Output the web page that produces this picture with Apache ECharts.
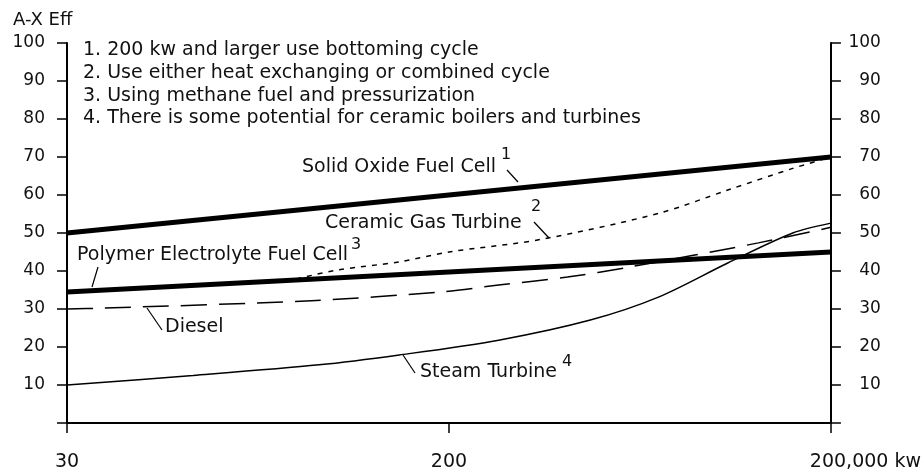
<!DOCTYPE html>
<html>
<head>
<meta charset="utf-8">
<script src="https://cdn.jsdelivr.net/npm/echarts@6/dist/echarts.min.js"></script>
<style>
  html, body { margin: 0; padding: 0; background: #fff; }
  #chart { width: 924px; height: 476px; }
</style>
</head>
<body>
<div id="chart"></div>
<script>
// x positions are in axis steps: 0 = 30 kw, 1 = 200 kw, 2 = 200,000 kw
const xTickLabels = ['30', '200', '200,000 kw'];

const solidOxideX = [0, 2];
const solidOxideY = [50, 70];

const polymerX = [0, 2];
const polymerY = [34.5, 45];

const ceramicX = [0.6, 0.71, 0.87, 1.0, 1.24, 1.55, 1.73, 1.9, 2];
const ceramicY = [37.9, 40.3, 42.4, 45, 48.3, 55.2, 61.3, 67, 70];

const dieselX = [0, 0.09, 0.64, 0.98, 1.13, 1.31, 1.47, 1.81, 2];
const dieselY = [30, 30.2, 32.2, 34.5, 36.3, 38.4, 41, 47.4, 51.5];

const steamX = [0, 0.33, 0.66, 0.87, 1.13, 1.37, 1.55, 1.73, 1.9, 2];
const steamY = [10, 12.5, 15.3, 17.9, 21.8, 27.1, 33.2, 42.1, 50, 52.6];

const notes = [
  '1. 200 kw and larger use bottoming cycle',
  '2. Use either heat exchanging or combined cycle',
  '3. Using methane fuel and pressurization',
  '4. There is some potential for ceramic boilers and turbines'
];

const FONT = '"DejaVu Sans", sans-serif';
const zip = (xs, ys) => xs.map((x, i) => [x, ys[i]]);

const chart = echarts.init(document.getElementById('chart'));

function label(text, x, y, size) {
  return {
    type: 'text', x: x, y: y,
    style: { text: text, font: (size || 19) + 'px ' + FONT, fill: '#111', align: 'left', verticalAlign: 'middle' }
  };
}
function leader(x1, y1, x2, y2) {
  return {
    type: 'line',
    shape: { x1: x1, y1: y1, x2: x2, y2: y2 },
    style: { stroke: '#000', lineWidth: 1.2 }
  };
}

const yAxisBase = {
  type: 'value',
  min: 0,
  max: 100,
  interval: 10,
  splitLine: { show: false },
  axisLine: { show: true, lineStyle: { color: '#000', width: 2 } },
  axisTick: { show: true, length: 10, lineStyle: { color: '#000', width: 1.5 } }
};

const option = {
  animation: false,
  backgroundColor: '#fff',
  grid: { left: 67, right: 92, top: 43, bottom: 53 },
  xAxis: {
    type: 'value',
    min: 0,
    max: 2,
    interval: 1,
    splitLine: { show: false },
    axisLine: { lineStyle: { color: '#000', width: 2 } },
    axisTick: { length: 10, lineStyle: { color: '#000', width: 1.5 } },
    axisLabel: {
      margin: 30,
      color: '#111',
      fontFamily: FONT,
      fontSize: 19,
      formatter: (v) => (v === 2 ? '{last|' + xTickLabels[v] + '}' : xTickLabels[v]),
      rich: { last: { fontFamily: FONT, fontSize: 19, color: '#111', padding: [0, 0, 0, 69] } }
    }
  },
  yAxis: [
    Object.assign({}, yAxisBase, {
      position: 'left',
      axisLabel: {
        margin: 22, color: '#111', fontFamily: FONT, fontSize: 17, align: 'right',
        formatter: (v) => (v === 0 ? '' : String(v))
      }
    }),
    Object.assign({}, yAxisBase, {
      position: 'right',
      axisLabel: {
        margin: 50, color: '#111', fontFamily: FONT, fontSize: 17, align: 'right',
        formatter: (v) => (v === 0 ? '' : String(v))
      }
    })
  ],
  series: [
    {
      name: 'Solid Oxide Fuel Cell', type: 'line', data: zip(solidOxideX, solidOxideY),
      symbol: 'none', lineStyle: { color: '#000', width: 5 }
    },
    {
      name: 'Polymer Electrolyte Fuel Cell', type: 'line', data: zip(polymerX, polymerY),
      symbol: 'none', lineStyle: { color: '#000', width: 5 }
    },
    {
      name: 'Ceramic Gas Turbine', type: 'line', data: zip(ceramicX, ceramicY),
      symbol: 'none', smooth: 0.3, lineStyle: { color: '#000', width: 1.5, type: [5, 6] }
    },
    {
      name: 'Diesel', type: 'line', data: zip(dieselX, dieselY),
      symbol: 'none', smooth: 0.3, lineStyle: { color: '#000', width: 1.5, type: [26, 12] }
    },
    {
      name: 'Steam Turbine', type: 'line', data: zip(steamX, steamY),
      symbol: 'none', smooth: 0.3, lineStyle: { color: '#000', width: 1.5 }
    }
  ],
  graphic: [
    label('A-X Eff', 13, 20, 18),
    {
      type: 'text', x: 83, y: 39,
      style: { text: notes.join('\n'), font: '19px ' + FONT, fill: '#111', lineHeight: 22.7, align: 'left', verticalAlign: 'top' }
    },
    label('Solid Oxide Fuel Cell', 302, 167),
    label('1', 501, 155, 16),
    leader(507, 170, 518, 182),
    label('Ceramic Gas Turbine', 325, 223),
    label('2', 531, 207, 16),
    leader(534, 222, 549, 238),
    label('Polymer Electrolyte Fuel Cell', 77, 255),
    label('3', 351, 245, 16),
    leader(98, 267, 92, 287),
    label('Diesel', 165, 327),
    leader(147, 308, 162, 330),
    label('Steam Turbine', 420, 372),
    label('4', 562, 362, 16),
    leader(403, 355, 415, 373)
  ]
};

chart.setOption(option);
</script>
</body>
</html>
